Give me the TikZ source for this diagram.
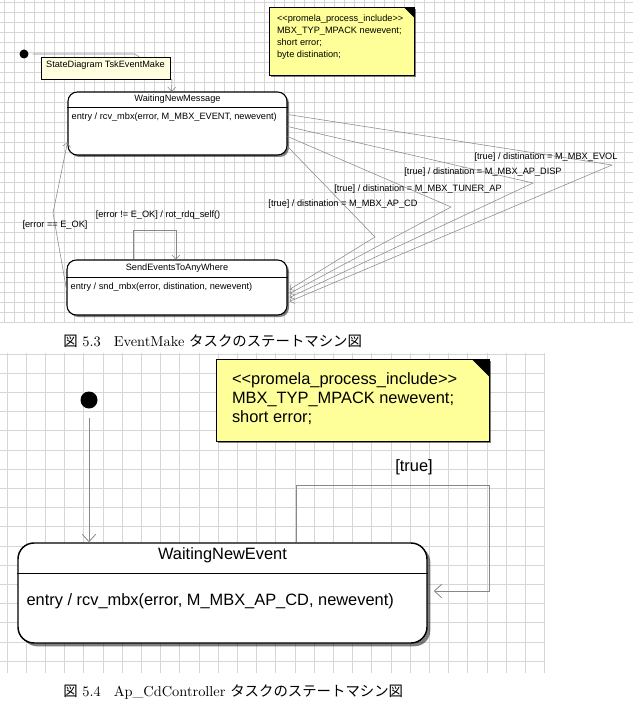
\documentclass[tikz,border=0pt]{standalone}
\usepackage{fontspec}
\newfontfamily\uifont{Liberation Sans}
\newfontfamily\cjk{Noto Sans CJK JP}
\usepackage{xcolor}
\usepackage{tikz}
\usetikzlibrary{arrows.meta,positioning,calc,fit,shadows}

\definecolor{gridgray}{RGB}{214,214,214}
\definecolor{linegray}{RGB}{135,135,135}
\definecolor{noteyellow}{RGB}{255,255,153}
\definecolor{tagyellow}{RGB}{255,255,224}

\tikzset{
  gridline/.style={draw=gridgray,line width=0.6pt},
  state/.style={draw,fill=white,rounded corners=7pt,inner sep=0pt,line width=0.8pt,
    drop shadow={shadow xshift=1.5pt,shadow yshift=-1.5pt,fill=black,opacity=0.5}},
  bigstate/.style={draw,fill=white,rounded corners=12pt,inner sep=0pt,line width=1.1pt,
    drop shadow={shadow xshift=2.5pt,shadow yshift=-2.5pt,fill=black,opacity=0.5}},
  small/.style={font={\uifont\fontsize{6.9}{9}\selectfont},inner sep=0pt},
  large/.style={font={\uifont\fontsize{12.3}{14.25}\selectfont},inner sep=0pt},
  caption/.style={font={\fontsize{10.8}{13}\selectfont},inner sep=0pt},
  trans/.style={draw=linegray,line width=0.4pt,-{Straight Barb[length=3pt,width=6pt]}},
  bigtrans/.style={draw=linegray,line width=0.6pt,-{Straight Barb[length=5.5pt,width=10pt]}},
  initial/.style={circle,fill=black,inner sep=0pt},
  area/.style={inner sep=0pt},
  tagbox/.style={draw,fill=tagyellow,inner sep=0pt,line width=0.6pt},
  notebox/.style={draw,fill=noteyellow,drop shadow={shadow xshift=1pt,shadow yshift=-1pt,fill=black,opacity=0.5}},
}

\begin{document}
\begin{tikzpicture}[x=0.75pt,y=-0.75pt]
  \useasboundingbox (0,0) rectangle (633,702);
  \fill[white] (0,0) rectangle (633,702);

  % --- figure 5.3 ---
  \foreach \gx in {4,14,...,624} \draw[gridline] (\gx,0) -- (\gx,322);
  \foreach \gy in {2,12,...,322} \draw[gridline] (0,\gy) -- (633,\gy);

  \node[area,fit={(270,8)(414,75)}] (pmlnote) {};
  \draw[notebox,line width=0.8pt] (pmlnote.north west) rectangle (pmlnote.south east);
  \fill ($(pmlnote.north east)+(-10,0)$) -- (pmlnote.north east) -- ($(pmlnote.north east)+(0,10)$) -- cycle;
  \node[small,anchor=north west,align=left] at ($(pmlnote.north west)+(7,6.5)$)
    {<{}<promela\_process\_include>{}>\\MBX\_TYP\_MPACK newevent;\\short error;\\byte distination;};

  \node[state,fit={(68,92)(287,155)}] (waitmsg) {};
  \draw[line width=0.8pt] ($(waitmsg.north west)+(0,16)$) -- ($(waitmsg.north east)+(0,16)$);
  \node[small] at ($(waitmsg.north)+(0,8)$) {WaitingNewMessage};
  \node[small,anchor=west] at ($(waitmsg.north west)+(4,26)$) {entry / rcv\_mbx(error, M\_MBX\_EVENT, newevent)};

  \node[state,fit={(67,260)(287,315)}] (sendev) {};
  \draw[line width=0.8pt] ($(sendev.north west)+(0,18)$) -- ($(sendev.north east)+(0,18)$);
  \node[small] at ($(sendev.north)+(0,8.5)$) {SendEventsToAnyWhere};
  \node[small,anchor=west] at ($(sendev.north west)+(4,28)$) {entry / snd\_mbx(error, distination, newevent)};

  % initial transition, partly behind the tag
  \node[initial,minimum size=6.75pt] (init1) at (24,54) {};
  \coordinate (initbend) at (135,54);
  \coordinate (initdrop) at (172,80);
  \draw[trans] ([xshift=3pt]init1.east) -- (initbend) -- (initdrop) -- ($(waitmsg.north west)+(104,0)$);
  \node[tagbox,small,fit={(41,57)(170,79)}] (diagtag) {StateDiagram TskEventMake};

  % guarded transitions to SendEventsToAnyWhere
  \coordinate (evolpt) at (612,165);
  \coordinate (disppt) at (533,183);
  \coordinate (tunerpt) at (451,207);
  \coordinate (cdpt) at (375,237);
  \draw[trans] ($(waitmsg.north east)+(0,23)$) -- (evolpt) -- ($(sendev.north east)+(2,42)$);
  \draw[trans] ($(waitmsg.north east)+(0,35)$) -- (disppt) -- ($(sendev.north east)+(2,38)$);
  \draw[trans] ($(waitmsg.north east)+(0,45)$) -- (tunerpt) -- ($(sendev.north east)+(2,34)$);
  \draw[trans] ($(waitmsg.north east)+(0,55)$) -- (cdpt) -- ($(sendev.north east)+(2,30)$);
  \node[small] at (546,157) {[true] / distination = M\_MBX\_EVOL};
  \node[small] at (483,172) {[true] / distination = M\_MBX\_AP\_DISP};
  \node[small] at (418,189) {[true] / distination = M\_MBX\_TUNER\_AP};
  \node[small] at (343,204) {[true] / distination = M\_MBX\_AP\_CD};

  % back to WaitingNewMessage and self loop
  \coordinate (okbend) at (53,213);
  \draw[trans] ($(sendev.north west)+(0,30)$) -- (okbend) -- ($(waitmsg.north west)+(0,51)$);
  \node[small] at (55,225) {[error == E\_OK]};
  \coordinate (selfa) at (133,230);
  \coordinate (selfb) at (176,230);
  \draw[trans] (sendev.north -| selfa) -- (selfa) -- (selfb) -- (sendev.north -| selfb);
  \node[small] at (158,215) {[error != E\_OK] / rot\_rdq\_self()};

  \node[caption,anchor=west] (cap53) at (63,341)
    {{\cjk 図} 5.3\hspace{0.9em}EventMake {\cjk タスクのステートマシン図}};

  % --- figure 5.4 ---
  \foreach \gx in {7,26.2,...,545} \draw[gridline] (\gx,353) -- (\gx,673);
  \foreach \gy in {354,373.2,...,673} \draw[gridline] (0,\gy) -- (545,\gy);

  \node[area,fit={(217,360)(489,441)}] (cdnote) {};
  \draw[notebox,line width=1pt] (cdnote.north west) rectangle (cdnote.south east);
  \fill ($(cdnote.north east)+(-17,0)$) -- (cdnote.north east) -- ($(cdnote.north east)+(0,17)$) -- cycle;
  \node[large,anchor=north west,align=left] at ($(cdnote.north west)+(15,12.5)$)
    {<{}<promela\_process\_include>{}>\\MBX\_TYP\_MPACK newevent;\\short error;};

  \node[bigstate,fit={(18,543)(427,643)}] (waitev) {};
  \draw[line width=1.1pt] ($(waitev.north west)+(0,31)$) -- ($(waitev.north east)+(0,31)$);
  \node[large] at ($(waitev.north)+(0,13)$) {WaitingNewEvent};
  \node[large,anchor=west] at ($(waitev.north west)+(9,59)$) {entry / rcv\_mbx(error, M\_MBX\_AP\_CD, newevent)};

  \node[initial,minimum size=12.75pt] (init2) at (89,400) {};
  \draw[bigtrans] ([yshift=-7pt]init2.south) -- (waitev.north -| init2);

  \coordinate (loopa) at (296,485);
  \coordinate (loopb) at (489,591);
  \draw[bigtrans] (waitev.north -| loopa) -- (loopa) -| (loopb) -- ($(waitev.east |- loopb)+(6,0)$);
  \node[large] at (414,467) {[true]};

  \node[caption,anchor=west] (cap54) at (63,692)
    {{\cjk 図} 5.4\hspace{0.9em}Ap\_CdController {\cjk タスクのステートマシン図}};
\end{tikzpicture}
\end{document}
